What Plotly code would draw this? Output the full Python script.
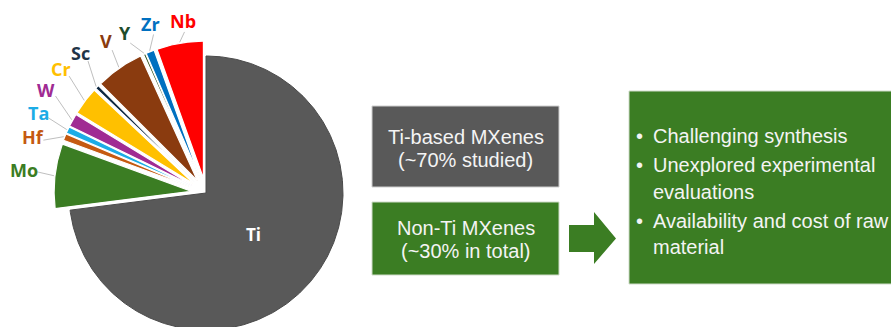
import numpy as np
import plotly.graph_objects as go

# ---------------- data ----------------
elements = ["Ti", "Mo", "Hf", "Ta", "W", "Cr", "Sc", "V", "Y", "Zr", "Nb"]
shares = [73.0, 7.6, 0.8, 0.8, 1.5, 3.3, 0.5, 5.7, 0.3, 1.0, 5.5]   # % of studied MXenes

box_ti_lines = ["Ti-based MXenes", "(~70% studied)"]
box_nonti_lines = ["Non-Ti MXenes", "(~30% in total)"]
bullet_items = [["Challenging synthesis"],
                ["Unexplored experimental", "evaluations"],
                ["Availability and cost of raw", "material"]]

# ---------------- styles / layout ----------------
slice_colors = ["#595959", "#3b7d23", "#c55a11", "#1cace6", "#a02b93", "#ffc000",
                "#0e2841", "#8a3b0f", "#375623", "#0070c0", "#ff0000"]
label_colors = ["#ffffff", "#3b7d23", "#c55a11", "#1cace6", "#a02b93", "#ffc000",
                "#1f3447", "#8a3b0f", "#1e4d2b", "#0070c0", "#ff0000"]
pulls = [0] + [15] * 10                      # px
label_angle = [None, 277.2, 288.0, 295.5, 302.8, 310.5, 318.2, 326.7, 333.2, 341.7, 352.4]
label_radius = [None, 183, 182, 186, 190, 191, 188, 182, 179, 178, 173.5]

W, H = 891, 327
cx, cy, R = 206, 193, 137
GREEN = "#3b7d23"
GREY = "#595959"
TXT = "#f4f4f4"
BOX_FONT = "Liberation Sans, Arial, sans-serif"

fig = go.Figure()

# pie slices (angles clockwise from 12 o'clock)
vals = np.array(shares, dtype=float)
ends = np.cumsum(vals) / vals.sum() * 360.0
starts = np.concatenate([[0.0], ends[:-1]])


def pol(r, ang_deg, ox=cx, oy=cy):
    a = np.radians(ang_deg)
    return ox + r * np.sin(a), oy - r * np.cos(a)


for i, name in enumerate(elements):
    a0, a1 = starts[i], ends[i]
    m = (a0 + a1) / 2
    vx, vy = pol(pulls[i], m)
    th = np.linspace(a0, a1, max(8, int((a1 - a0) * 2)))
    xs, ys = pol(R, th, vx, vy)
    fig.add_trace(go.Scatter(
        x=np.concatenate([[vx], xs, [vx]]), y=np.concatenate([[vy], ys, [vy]]),
        mode="lines", fill="toself", fillcolor=slice_colors[i],
        line=dict(color="#4a4a4a" if i == 0 else "white", width=1 if i == 0 else 1.2),
        hoverinfo="skip", showlegend=False))

# leader lines + labels
lx, ly = [], []
annotations = []
for i, name in enumerate(elements):
    a0, a1 = starts[i], ends[i]
    m = (a0 + a1) / 2
    if i == 0:
        tx, ty = pol(0.46 * R, m)
        annotations.append(dict(x=tx, y=ty, text="<b>%s</b>" % name, showarrow=False,
                                font=dict(family="Open Sans, sans-serif", size=17, color="white")))
        continue
    tx, ty = pol(label_radius[i], label_angle[i])
    sx, sy = pol(label_radius[i] - 11, label_angle[i])
    ex, ey = pol(R + pulls[i] + 1, m)
    lx += [sx, ex, None]
    ly += [sy, ey, None]
    annotations.append(dict(x=tx, y=ty, text="<b>%s</b>" % name, showarrow=False,
                            font=dict(family="Open Sans, sans-serif", size=18, color=label_colors[i])))

fig.add_trace(go.Scatter(x=lx, y=ly, mode="lines", line=dict(color="#bfbfbf", width=1),
                         hoverinfo="skip", showlegend=False))

# boxes and arrow
shapes = [
    dict(type="rect", x0=372, x1=559, y0=106, y1=187, fillcolor=GREY,
         line=dict(color="#cfcfcf", width=1), layer="below"),
    dict(type="rect", x0=372, x1=559, y0=202, y1=275, fillcolor=GREEN,
         line=dict(color="#cfdcc9", width=1), layer="below"),
    dict(type="rect", x0=629, x1=905, y0=91, y1=284, fillcolor=GREEN,
         line=dict(color="#cfdcc9", width=1), layer="below"),
    dict(type="path", path="M 569,225 L 594,225 L 594,212 L 616,238.5 L 594,264 L 594,252 L 569,252 Z",
         fillcolor=GREEN, line=dict(width=0), layer="below"),
]

for j, t in enumerate(box_ti_lines):
    annotations.append(dict(x=465.5, y=137 + j * 23, text=t, showarrow=False,
                            font=dict(family=BOX_FONT, size=20, color=TXT)))
for j, t in enumerate(box_nonti_lines):
    annotations.append(dict(x=465.5, y=228 + j * 23, text=t, showarrow=False,
                            font=dict(family=BOX_FONT, size=20, color=TXT)))

yline = 136
for item in bullet_items:
    annotations.append(dict(x=634, y=yline, text="•", showarrow=False, xanchor="left",
                            font=dict(family=BOX_FONT, size=20, color=TXT)))
    for k, t in enumerate(item):
        annotations.append(dict(x=651, y=yline, text=t, showarrow=False, xanchor="left",
                                font=dict(family=BOX_FONT, size=20, color=TXT)))
        yline += 26.5
    yline += 2.5

fig.update_layout(
    width=W, height=H, margin=dict(l=0, r=0, t=0, b=0),
    paper_bgcolor="white", plot_bgcolor="white",
    xaxis=dict(range=[0, W], visible=False, fixedrange=True),
    yaxis=dict(range=[H, 0], visible=False, fixedrange=True),
    shapes=shapes, annotations=annotations, showlegend=False,
)

fig.write_html("out.html")
